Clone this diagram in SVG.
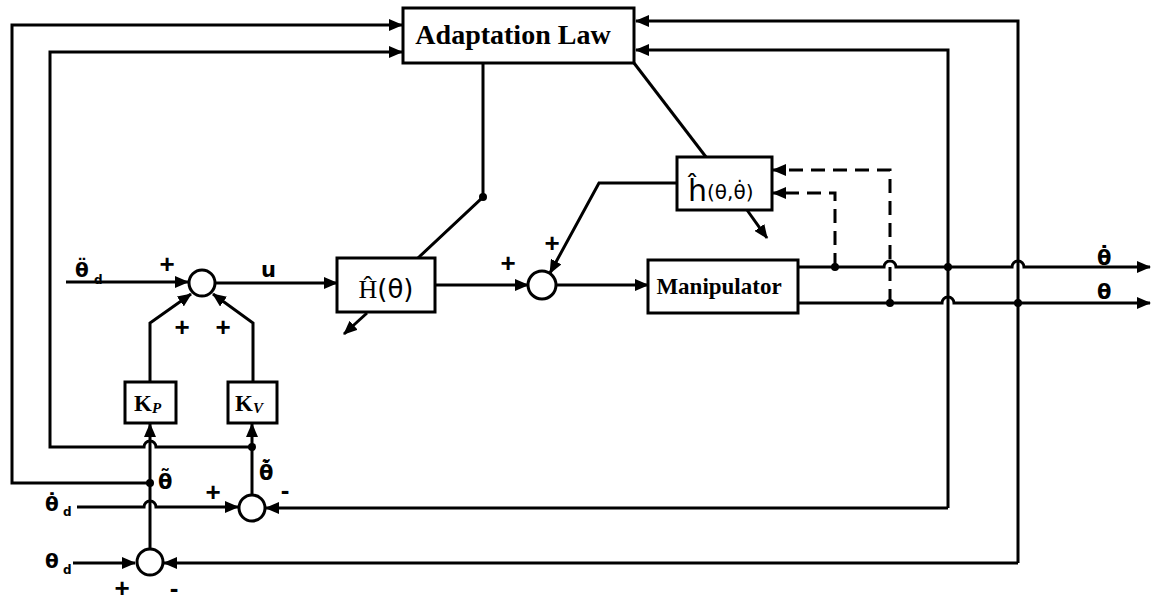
<svg xmlns="http://www.w3.org/2000/svg" width="1151" height="602" viewBox="0 0 1151 602">
<style>
.ln{fill:none;stroke:#000;stroke-width:3;stroke-linejoin:miter}
.ar{marker-end:url(#a)}
.ds{fill:none;stroke:#000;stroke-width:3;stroke-dasharray:14 8}
.bx{fill:#fff;stroke:#000;stroke-width:3}
.sj{fill:#fff;stroke:#000;stroke-width:3}
.dot{fill:#000}
.ser{font-family:"Liberation Serif",serif;font-weight:bold;fill:#000}
.san{font-family:"DejaVu Sans","Liberation Sans",sans-serif;fill:#000}
.th{font-family:"DejaVu Sans","Liberation Sans",sans-serif;font-weight:bold;fill:#000}
.pl{font-family:"Liberation Sans",sans-serif;font-weight:bold;font-size:26px;fill:#000;text-anchor:middle}
</style>
<defs>
<marker id="a" markerWidth="14" markerHeight="12" refX="13" refY="6" orient="auto" markerUnits="userSpaceOnUse">
<path d="M0 0 L14 6 L0 12 z" fill="#000"/>
</marker>
</defs>
<g id="connectors">
<path class="ln ar" d="M66 282 H188"/>
<path class="ln ar" d="M150 382 V323 L191 294"/>
<path class="ln ar" d="M253 382 V323 L213 294"/>
<path class="ln ar" d="M216 283 H337"/>
<path class="ln ar" d="M435 285 H528"/>
<path class="ln" d="M418 258 L483 197 V63"/>
<path class="ln ar" d="M367 313 L344 334"/>
<path class="ln ar" d="M677 183 H599 L550 273"/>
<path class="ln" d="M634 63 L706 157"/>
<path class="ln ar" d="M747 210 L767 238"/>
<path class="ln ar" d="M556 285 H648"/>
<path class="ln ar" d="M798 267 H884 A6 6 0 0 1 896 267 H1012 A6 6 0 0 1 1024 267 H1150"/>
<path class="ln ar" d="M798 303 H942 A6 6 0 0 1 954 303 H1150"/>
<path class="ln ar" d="M948 508 V50 H636"/>
<path class="ln ar" d="M948 508 H266"/>
<path class="ln ar" d="M1018 563 V21 H636"/>
<path class="ln ar" d="M1018 563 H164"/>
<path class="ds ar" d="M890 303 V170 H773"/>
<path class="ds ar" d="M835 267 V193 H773"/>
<path class="ln ar" d="M77 507 H144 A6 6 0 0 1 156 507 H238"/>
<path class="ln ar" d="M73 563 H135"/>
<path class="ln ar" d="M150 548 V424"/>
<path class="ln ar" d="M252 495 V424"/>
<path class="ln ar" d="M150 483 H12 V25 H402"/>
<path class="ln ar" d="M252 447 H156 A6 6 0 0 0 144 447 H50 V52 H402"/>
<circle class="dot" cx="483" cy="197" r="4"/>
<circle class="dot" cx="150" cy="483" r="4"/>
<circle class="dot" cx="252" cy="447" r="4"/>
<circle class="dot" cx="835" cy="267" r="4"/>
<circle class="dot" cx="890" cy="303" r="4"/>
<circle class="dot" cx="948" cy="267" r="4"/>
<circle class="dot" cx="1018" cy="303" r="4"/>
</g>
<g id="adaptation">
<rect class="bx" x="403" y="8" width="231" height="55"/>
<text class="ser" x="513" y="44" font-size="28" text-anchor="middle">Adaptation Law</text>
</g>
<g id="H">
<rect class="bx" x="337" y="258" width="98" height="54"/>
<text x="386" y="298" font-size="26" text-anchor="middle" class="san"><tspan font-family="Liberation Serif">Ĥ</tspan>(θ)</text>
</g>
<g id="h">
<rect class="bx" x="677" y="157" width="95" height="53"/>
<text x="688" y="201" class="san" font-size="30">ĥ<tspan font-size="20" dy="-2">(θ,θ̇)</tspan></text>
</g>
<g id="manipulator">
<rect class="bx" x="648" y="260" width="150" height="53"/>
<text class="ser" x="719" y="294" font-size="23" text-anchor="middle">Manipulator</text>
</g>
<g id="Kp">
<rect class="bx" x="125" y="382" width="51" height="41"/>
<text class="ser" x="134" y="411" font-size="23">K<tspan font-style="italic" font-size="15" dy="2">P</tspan></text>
</g>
<g id="Kv">
<rect class="bx" x="228" y="382" width="49" height="41"/>
<text class="ser" x="235" y="411" font-size="23">K<tspan font-style="italic" font-size="15" dy="2">V</tspan></text>
</g>
<g id="sum3"><circle class="sj" cx="202" cy="283" r="13"/></g>
<g id="sum4"><circle class="sj" cx="542" cy="285" r="14"/></g>
<g id="sum2"><circle class="sj" cx="252" cy="508" r="13"/></g>
<g id="sum1"><circle class="sj" cx="150" cy="562" r="13"/></g>
<g id="labels">
<text class="th" x="75" y="277" font-size="20">θ̈</text>
<text class="th" x="94" y="284" font-size="12">d</text>
<text class="san" x="261" y="277" font-size="21" font-weight="bold">u</text>
<text class="pl" x="167" y="273">+</text>
<text class="pl" x="182" y="336">+</text>
<text class="pl" x="223" y="336">+</text>
<text class="pl" x="508" y="272">+</text>
<text class="pl" x="552" y="252">+</text>
<text class="pl" x="213" y="501">+</text>
<text class="pl" x="285" y="499">-</text>
<text class="pl" x="122" y="597">+</text>
<text class="pl" x="174" y="597">-</text>
<text class="th" x="158" y="489" font-size="21">θ̃</text>
<text class="th" x="259" y="480" font-size="21">θ̃̇</text>
<text class="th" x="45" y="511" font-size="20">θ̇</text>
<text class="th" x="63" y="516" font-size="12">d</text>
<text class="th" x="45" y="568" font-size="20">θ</text>
<text class="th" x="63" y="574" font-size="12">d</text>
<text class="th" x="1097" y="265" font-size="21">θ̇</text>
<text class="th" x="1097" y="299" font-size="21">θ</text>
</g>
</svg>
